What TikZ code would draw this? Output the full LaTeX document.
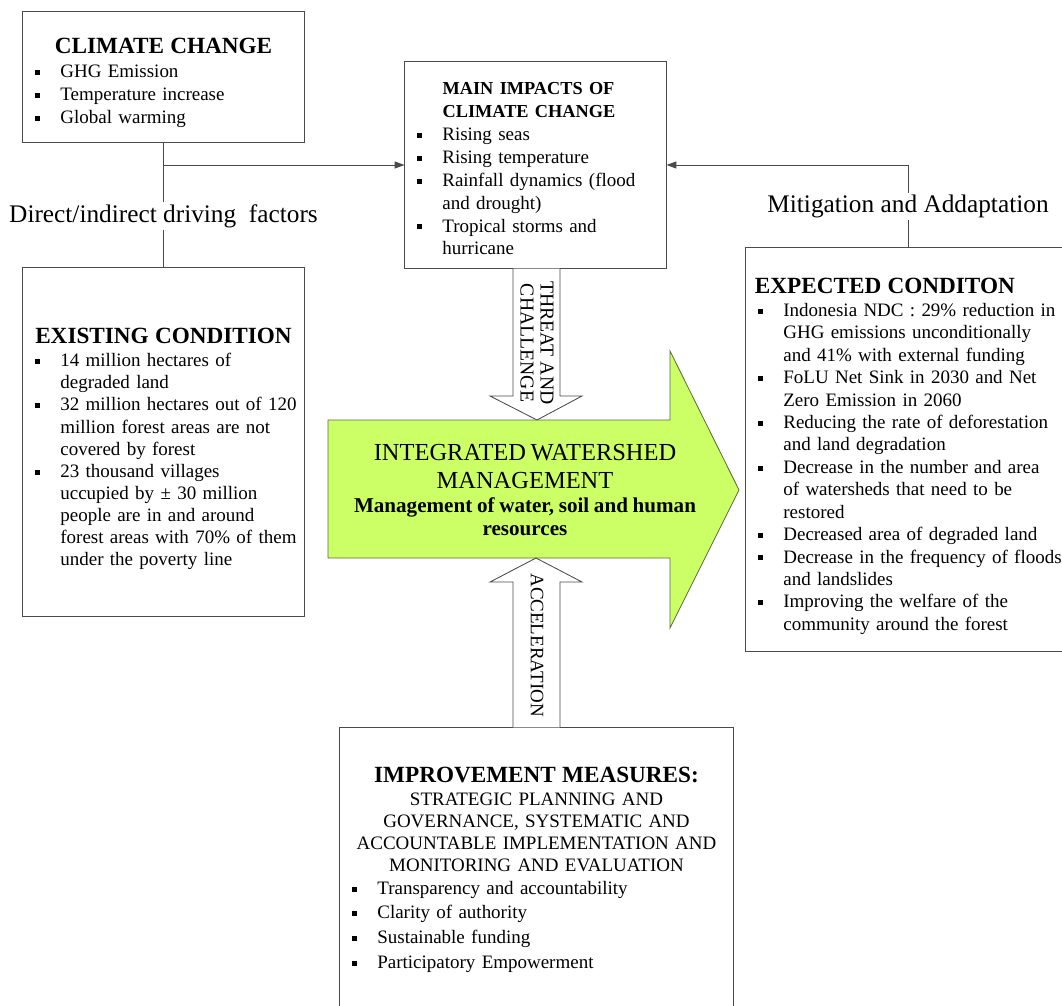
\documentclass[tikz,border=0pt]{standalone}
\usepackage{fontspec}
\setmainfont{Liberation Serif}
\usetikzlibrary{positioning, arrows.meta, calc}
\definecolor{wsgreen}{HTML}{CCFF66}
\definecolor{wsline}{HTML}{4A4A4A}
\definecolor{wsedge}{HTML}{5C6B3C}

\newcommand{\sqb}{\rule[0.3ex]{3.6pt}{3.6pt}}
\newenvironment{blist}{\begin{tabular}{@{\hspace{8.5pt}}l@{\hspace{14.5pt}}l@{}}}{\end{tabular}}
\newcommand{\boxtitle}[1]{{\centering\bfseries\fontsize{16.5}{18}\selectfont #1\par}\vspace{4.5pt}}

\begin{document}
\begin{tikzpicture}[x=0.025cm, y=-0.025cm,
    box/.style={draw=wsline, line width=0.7pt, inner sep=0pt, align=left,
      font=\fontsize{13.5}{16.3}\selectfont},
    lbl/.style={fill=white, text=black, inner sep=1.5pt, font=\fontsize{18}{20}\selectfont},
    tip/.style={-{Triangle[length=7pt, width=5pt]}},
    blockarrow/.style={draw=wsline, line width=0.6pt, fill=white}]
  \useasboundingbox (0,0) rectangle (1062,1005);

  % boxes
  \node[box, text width=7.025cm, minimum height=3.25cm, font=\fontsize{13.5}{16.4}\selectfont] (climate) at (163.5,77) {%
    \par\vspace*{3pt}
    \boxtitle{CLIMATE CHANGE}
    \begin{blist}
      \sqb & GHG Emission\\
      \sqb & Temperature increase\\
      \sqb & Global warming
    \end{blist}};
  \node[box, text width=7.025cm, minimum height=8.7cm, font=\fontsize{13.5}{15.7}\selectfont] (existing) at (163.5,442) {%
    \par\vspace*{4.4pt}
    \boxtitle{EXISTING CONDITION}
    \begin{blist}
      \sqb & 14 million hectares of\\
           & degraded land\\
      \sqb & 32 million hectares out of 120\\
           & million forest areas are not\\
           & covered by forest\\
      \sqb & 23 thousand villages\\
           & uccupied by ± 30 million\\
           & people are in and around\\
           & forest areas with 70\% of them\\
           & under the poverty line
    \end{blist}};
  \node[box, text width=6.525cm, minimum height=5.15cm, font=\fontsize{13.5}{16.2}\selectfont] (impacts) at (535.5,165) {%
    \par\vspace*{2.4pt}
    {\leftskip=26.8pt\bfseries\fontsize{13}{16.4}\selectfont \mbox{MAIN IMPACTS OF}\\\mbox{CLIMATE CHANGE}\par}\vspace{4pt}
    \begin{blist}
      \sqb & Rising seas\\
      \sqb & Rising temperature\\
      \sqb & Rainfall dynamics (flood\\
           & and drought)\\
      \sqb & Tropical storms and\\
           & hurricane
    \end{blist}};
  \node[box, text width=8.1cm, minimum height=10.075cm, font=\fontsize{13.5}{15.95}\selectfont] (expected) at (908,449.5) {%
    \par\vspace*{4.4pt}
    {\leftskip=6.4pt\bfseries\fontsize{16.5}{18}\selectfont EXPECTED CONDITON\par}\vspace{4pt}
    \begin{blist}
      \sqb & Indonesia NDC : 29\% reduction in\\
           & GHG emissions unconditionally\\
           & and 41\% with external funding\\
      \sqb & FoLU Net Sink in 2030 and Net\\
           & Zero Emission in 2060\\
      \sqb & Reducing the rate of deforestation\\
           & and land degradation\\
      \sqb & Decrease in the number and area\\
           & of watersheds that need to be\\
           & restored\\
      \sqb & Decreased area of degraded land\\
      \sqb & Decrease in the frequency of floods\\
           & and landslides\\
      \sqb & Improving the welfare of the\\
           & community around the forest
    \end{blist}};
  \node[box, text width=9.825cm, minimum height=7.175cm] (improve) at (536.5,871.5) {%
    {\centering\bfseries\fontsize{16.5}{18}\selectfont IMPROVEMENT MEASURES:\par}\vspace{1pt}
    {\centering\fontsize{13.5}{15.6}\selectfont STRATEGIC PLANNING AND\\GOVERNANCE, SYSTEMATIC AND\\
      ACCOUNTABLE IMPLEMENTATION AND\\MONITORING AND EVALUATION\par}\vspace{2.5pt}
    \renewcommand{\arraystretch}{1.08}%
    \begin{blist}
      \sqb & Transparency and accountability\\
      \sqb & Clarity of authority\\
      \sqb & Sustainable funding\\
      \sqb & Participatory Empowerment
    \end{blist}};

  % big green arrow
  \draw[wsedge, line width=0.6pt, fill=wsgreen] (328,420) -- (670,420) -- (670,351)
    -- (739,490) -- (670,628) -- (670,558) -- (328,558) -- cycle;
  \node[text width=9cm, align=center, inner sep=0pt] (wsm) at (525,490) {%
    {\fontsize{17.4}{20}\selectfont INTEGRATED WATERSHED\\MANAGEMENT\par}\vspace{1pt}
    {\bfseries\fontsize{15}{16.4}\selectfont Management of water, soil and human\\resources\par}};

  % hollow arrows
  \draw[blockarrow] (impacts.south -| 513,0) -- (513,396) -- (490,396) -- (537,420)
    -- (582,396) -- (560,396) -- (impacts.south -| 560,0);
  \node[rotate=-90, align=center, inner sep=0pt, font=\fontsize{14}{14.2}\selectfont] (threat)
    at (537,343) {THREAT AND\\CHALLENGE};
  \draw[blockarrow] (improve.north -| 513,0) -- (513,582) -- (490,582) -- (536,558)
    -- (582,582) -- (560,582) -- (improve.north -| 560,0);
  \node[rotate=-90, inner sep=0pt, font=\fontsize{13.5}{14.2}\selectfont] (accel)
    at (537,645) {ACCELERATION};

  % connectors
  \draw[wsline, line width=0.7pt] (climate) -- node[lbl, pos=0.59] (drive) {Direct/indirect driving\ \ factors} (existing);
  \draw[wsline, line width=0.7pt, tip] (climate.south |- impacts.west) -- (impacts.west);
  \draw[wsline, line width=0.7pt, tip] (expected.north) |- node[lbl, pos=0.25] (mitig) {Mitigation and Addaptation} (impacts.east);
\end{tikzpicture}
\end{document}
